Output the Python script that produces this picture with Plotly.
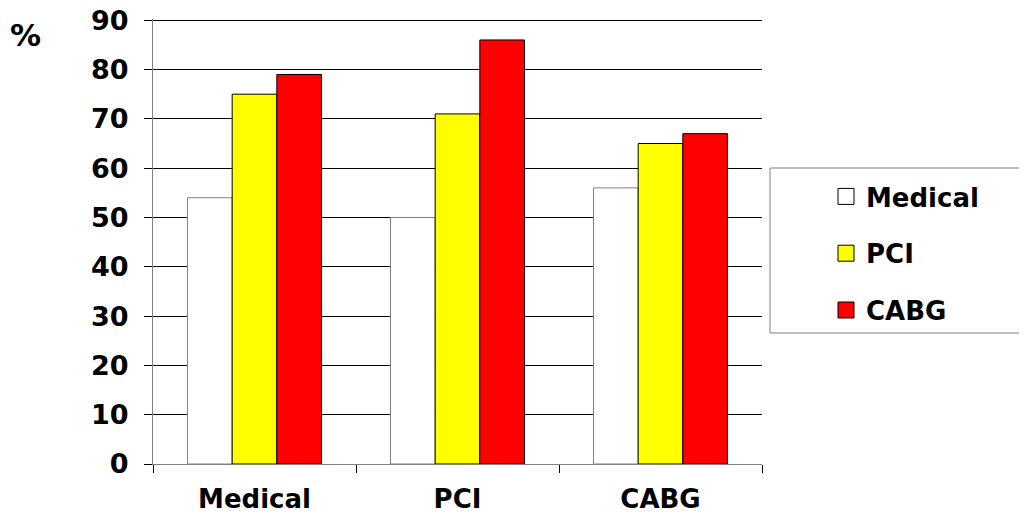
import plotly.graph_objects as go

categories = ["Medical", "PCI", "CABG"]
series_names = ["Medical", "PCI", "CABG"]
medical_vals = [54, 50, 56]
pci_vals = [75, 71, 65]
cabg_vals = [79, 86, 67]
y_ticks = [0, 10, 20, 30, 40, 50, 60, 70, 80, 90]

fill_colors = ["#FFFFFF", "#FFFF00", "#FF0000"]
line_colors = ["#808080", "#000000", "#000000"]
values = [medical_vals, pci_vals, cabg_vals]

FONT = "DejaVu Sans"
OFF = 8  # default page body margin
W, H = 1027 - OFF, 518 - OFF
# plot area in page pixels: left 153, right 762, top 19, bottom 464
ML, MT = 153 - OFF, 19 - OFF
MR, MB = W - (762 - OFF), H - (464 - OFF)
PW, PH = W - ML - MR, H - MT - MB


def px_x(px):  # page pixel -> paper x
    return (px - OFF - ML) / PW


def px_y(py):  # page pixel -> paper y
    return (H - MB - (py - OFF)) / PH


fig = go.Figure()
for i, (name, vals) in enumerate(zip(series_names, values)):
    fig.add_trace(go.Bar(
        x=categories, y=vals, name=name, showlegend=False,
        marker=dict(color=fill_colors[i], line=dict(color=line_colors[i], width=1)),
    ))
# legend entries with square swatches
for i, name in enumerate(series_names):
    fig.add_trace(go.Scatter(
        x=[None], y=[None], mode="markers", name=name, legendgroup=name,
        marker=dict(symbol="square", size=20, color=fill_colors[i],
                    line=dict(color="#000000", width=1)),
    ))

fig.update_layout(
    width=W, height=H,
    margin=dict(l=ML, r=MR, t=MT, b=MB),
    paper_bgcolor="white", plot_bgcolor="white",
    barmode="group", bargap=0.34, bargroupgap=0,
    font=dict(family=FONT, size=26, color="black", weight="bold"),
    showlegend=True,
    legend=dict(
        x=px_x(826), y=px_y(173), xanchor="left", yanchor="top",
        borderwidth=0, bgcolor="rgba(0,0,0,0)",
        font=dict(family=FONT, size=26, color="black", weight="bold"),
        traceorder="grouped", tracegroupgap=20,
        itemwidth=30,
    ),
    xaxis=dict(
        showline=True, linecolor="#808080", linewidth=1,
        ticks="outside", tickson="boundaries", ticklen=8, tickcolor="#000000",
        ticklabelstandoff=12, showgrid=False, automargin=False,
        tickfont=dict(family=FONT, size=26, color="black", weight="bold"),
    ),
    yaxis=dict(
        range=[0, 90.25], tickvals=y_ticks,
        showline=True, linecolor="#808080", linewidth=1,
        ticks="outside", ticklen=8, tickcolor="#000000",
        showgrid=True, gridcolor="#000000", gridwidth=1,
        zeroline=False, ticklabelstandoff=10, automargin=False,
        ticklabeloverflow="allow",
        tickfont=dict(family=FONT, size=27, color="black", weight="bold"),
    ),
    shapes=[dict(
        type="rect", xref="paper", yref="paper",
        x0=px_x(770), x1=px_x(1030), y0=px_y(333), y1=px_y(168),
        line=dict(color="#808080", width=1), fillcolor="rgba(0,0,0,0)",
        layer="below",
    )],
    annotations=[dict(
        text="%", x=px_x(8), y=px_y(15), xref="paper", yref="paper",
        xanchor="left", yanchor="top", showarrow=False,
        font=dict(family=FONT, size=31, color="black", weight="bold"),
    )],
)

fig.write_html("out.html")
